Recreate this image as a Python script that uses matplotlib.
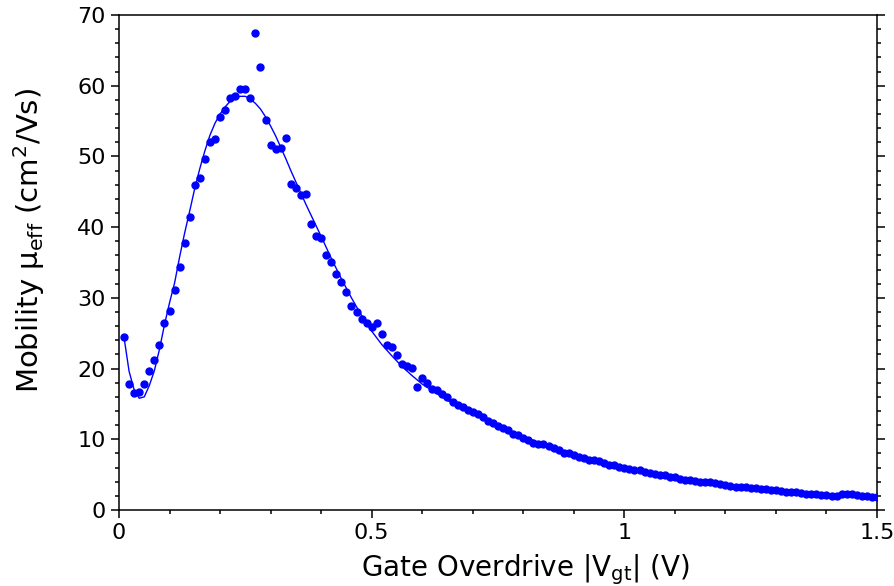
import numpy as np
import matplotlib
matplotlib.use('Agg')
import matplotlib.pyplot as plt
from matplotlib.ticker import MultipleLocator

# Measured data: gate overdrive |Vgt| (V) and effective mobility (cm^2/Vs)
vgt = [0.01, 0.02, 0.03, 0.04, 0.05, 0.06, 0.07, 0.08, 0.09, 0.10,
       0.11, 0.12, 0.13, 0.14, 0.15, 0.16, 0.17, 0.18, 0.19, 0.20,
       0.21, 0.22, 0.23, 0.24, 0.25, 0.26, 0.27, 0.28, 0.29, 0.30,
       0.31, 0.32, 0.33, 0.34, 0.35, 0.36, 0.37, 0.38, 0.39, 0.40,
       0.41, 0.42, 0.43, 0.44, 0.45, 0.46, 0.47, 0.48, 0.49, 0.50,
       0.51, 0.52, 0.53, 0.54, 0.55, 0.56, 0.57, 0.58, 0.59, 0.60,
       0.61, 0.62, 0.63, 0.64, 0.65, 0.66, 0.67, 0.68, 0.69, 0.70,
       0.71, 0.72, 0.73, 0.74, 0.75, 0.76, 0.77, 0.78, 0.79, 0.80,
       0.81, 0.82, 0.83, 0.84, 0.85, 0.86, 0.87, 0.88, 0.89, 0.90,
       0.91, 0.92, 0.93, 0.94, 0.95, 0.96, 0.97, 0.98, 0.99, 1.00,
       1.01, 1.02, 1.03, 1.04, 1.05, 1.06, 1.07, 1.08, 1.09, 1.10,
       1.11, 1.12, 1.13, 1.14, 1.15, 1.16, 1.17, 1.18, 1.19, 1.20,
       1.21, 1.22, 1.23, 1.24, 1.25, 1.26, 1.27, 1.28, 1.29, 1.30,
       1.31, 1.32, 1.33, 1.34, 1.35, 1.36, 1.37, 1.38, 1.39, 1.40,
       1.41, 1.42, 1.43, 1.44, 1.45, 1.46, 1.47, 1.48, 1.49, 1.50]
mobility = [24.4, 17.8, 16.6, 16.7, 17.8, 19.6, 21.2, 23.4, 26.4, 28.2,
            31.1, 34.4, 37.8, 41.5, 46.0, 46.9, 49.7, 52.0, 52.5, 55.6,
            56.6, 58.3, 58.6, 59.5, 59.5, 58.3, 67.4, 62.7, 55.2, 51.6,
            51.0, 51.2, 52.6, 46.1, 45.6, 44.6, 44.7, 40.4, 38.7, 38.4,
            36.1, 35.1, 33.4, 32.2, 30.8, 28.9, 28.0, 27.0, 26.5, 25.9,
            26.5, 24.9, 23.3, 23.0, 21.9, 20.7, 20.4, 20.1, 17.4, 18.7,
            17.9, 17.1, 17.0, 16.4, 16.0, 15.3, 14.9, 14.5, 14.1, 13.9,
            13.6, 13.2, 12.6, 12.3, 11.9, 11.6, 11.3, 10.8, 10.6, 10.2,
            9.9, 9.5, 9.4, 9.3, 9.0, 8.7, 8.5, 8.1, 8.0, 7.8,
            7.5, 7.3, 7.1, 7.1, 6.9, 6.6, 6.4, 6.4, 6.1, 5.9,
            5.8, 5.7, 5.6, 5.4, 5.2, 5.1, 5.0, 4.9, 4.7, 4.6,
            4.4, 4.3, 4.2, 4.1, 4.0, 3.9, 3.9, 3.8, 3.7, 3.5,
            3.4, 3.3, 3.2, 3.2, 3.1, 3.1, 3.0, 2.9, 2.8, 2.8,
            2.7, 2.6, 2.5, 2.5, 2.4, 2.3, 2.2, 2.2, 2.1, 2.1,
            2.0, 2.0, 2.2, 2.3, 2.2, 2.1, 2.0, 2.0, 1.9, 1.9]

# Fitted curve
fit_vgt = [0.01, 0.02, 0.03, 0.04, 0.05, 0.06, 0.07, 0.08, 0.09, 0.10,
           0.11, 0.12, 0.13, 0.14, 0.15, 0.16, 0.17, 0.18, 0.19, 0.20,
           0.21, 0.22, 0.23, 0.24, 0.25, 0.26, 0.27, 0.28, 0.29, 0.30,
           0.31, 0.32, 0.33, 0.34, 0.35, 0.36, 0.37, 0.38, 0.39, 0.40,
           0.42, 0.44, 0.46, 0.48, 0.50, 0.52, 0.54, 0.56, 0.58, 0.60,
           0.65, 0.70, 0.75, 0.80, 0.85, 0.90, 0.95, 1.00, 1.10, 1.20,
           1.30, 1.40, 1.50]
fit_mobility = [24.4, 19.6, 17.0, 15.8, 16.0, 17.6, 19.7, 22.7, 26.2, 29.3,
                32.1, 35.8, 39.2, 42.3, 45.5, 48.3, 50.8, 53.0, 54.7, 56.0,
                57.0, 57.8, 58.3, 58.5, 58.5, 58.1, 57.5, 56.7, 55.6, 54.3,
                52.9, 51.3, 49.7, 48.0, 46.4, 44.8, 43.2, 41.7, 40.2, 38.7,
                35.6, 32.7, 30.0, 27.5, 25.3, 23.4, 21.8, 20.3, 19.0, 17.8,
                15.5, 13.6, 11.9, 10.4, 9.0, 7.9, 6.9, 6.0, 4.6, 3.6,
                2.8, 2.2, 1.8]

fig = plt.figure(figsize=(8.94, 5.86), dpi=100)
ax = fig.add_axes([0.1331, 0.1297, 0.8479, 0.8447])

ax.plot(fit_vgt, fit_mobility, color='blue', lw=1.0, zorder=2)
ax.plot(vgt, mobility, 'o', color='blue', ms=5, mec='blue', zorder=3)

ax.set_xlim(0, 1.5)
ax.set_ylim(0, 70)
ax.xaxis.set_major_locator(MultipleLocator(0.5))
ax.xaxis.set_minor_locator(MultipleLocator(0.1))
ax.yaxis.set_major_locator(MultipleLocator(10))
ax.yaxis.set_minor_locator(MultipleLocator(2))
ax.xaxis.set_major_formatter(plt.FuncFormatter(lambda v, p: f'{v:g}'))

for s in ax.spines.values():
    s.set_linewidth(1.1)
ax.tick_params(which='both', direction='out', top=False, right=True,
               width=1.1, labelsize=16)
ax.tick_params(which='major', length=6)
ax.tick_params(which='minor', length=3)

ax.set_xlabel('Gate Overdrive |V$_\\mathregular{gt}$| (V)', fontsize=20)
ax.set_ylabel('Mobility μ$_\\mathregular{eff}$ (cm$^\\mathregular{2}$/Vs)', fontsize=21)
ax.xaxis.set_label_coords(0.536, -0.085)
ax.yaxis.set_label_coords(-0.095, 0.545)

fig.savefig('out.png', dpi=100)
